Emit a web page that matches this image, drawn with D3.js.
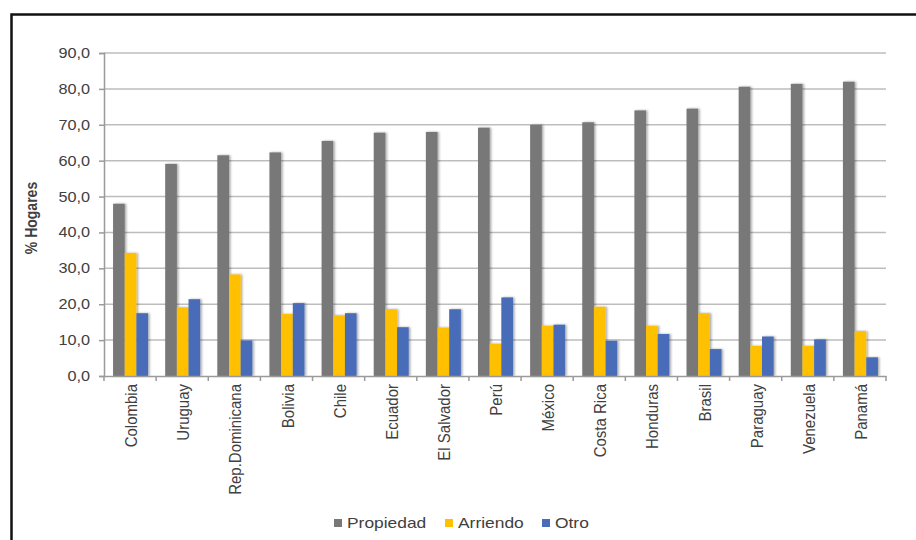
<!DOCTYPE html>
<html>
<head>
<meta charset="utf-8">
<title>Tenencia de vivienda</title>
<script src="https://cdn.jsdelivr.net/npm/d3@7"></script>
<style>
    body { margin: 0; background: #fff; }
    text { font-family: "Liberation Sans", Arial, sans-serif; fill: #404040; }
</style>
</head>
<body>
<svg id="chart"></svg>
<script>
// data
const countries = ["Colombia", "Uruguay", "Rep.Dominicana", "Bolivia", "Chile", "Ecuador", "El Salvador",
    "Perú", "México", "Costa Rica", "Honduras", "Brasil", "Paraguay", "Venezuela", "Panamá"];
const seriesNames = ["Propiedad", "Arriendo", "Otro"];
const propiedad = [48.0, 59.1, 61.5, 62.3, 65.5, 67.8, 68.0, 69.2, 70.0, 70.7, 74.0, 74.5, 80.6, 81.4, 82.0];
const arriendo = [34.3, 19.1, 28.3, 17.3, 16.9, 18.6, 13.5, 9.0, 14.0, 19.3, 14.0, 17.5, 8.4, 8.4, 12.5];
const otro = [17.5, 21.4, 9.9, 20.3, 17.5, 13.6, 18.6, 21.9, 14.3, 9.8, 11.7, 7.5, 11.0, 10.2, 5.2];
const yTicks = [0, 10, 20, 30, 40, 50, 60, 70, 80, 90];
const colors = ["#787878", "#FFC000", "#4A6CB9"];

const width = 916, height = 540;
const stretch = 1.16; // the picture is a bit wider than tall, text looks stretched

const svg = d3.select("#chart").attr("width", width).attr("height", height);

// outer frame
svg.append("rect")
    .attr("x", 11.5).attr("y", 14.5)
    .attr("width", 930).attr("height", 560)
    .attr("fill", "none").attr("stroke", "#111").attr("stroke-width", 2.5);

const defs = svg.append("defs");
const f = defs.append("filter").attr("id", "shadow").attr("x", "-30%").attr("y", "-5%").attr("width", "160%").attr("height", "110%");
f.append("feDropShadow").attr("dx", 1.5).attr("dy", 0).attr("stdDeviation", 1.2)
    .attr("flood-color", "#000").attr("flood-opacity", 0.35);

const x = d3.scaleBand().domain(countries).range([104, 886]);
const xs = d3.scaleBand().domain(seriesNames).range([0, 35]);
const y = d3.scaleLinear().domain([0, 90]).range([376, 53]);

// gridlines
svg.append("g").selectAll("line").data(yTicks.slice(1)).join("line")
    .attr("x1", 104).attr("x2", 886)
    .attr("y1", d => y(d)).attr("y2", d => y(d))
    .attr("stroke", "#bdbdbd").attr("stroke-width", 1.5);

// y axis
const yAxis = svg.append("g").attr("transform", "translate(104,0)")
    .call(d3.axisLeft(y).tickValues(yTicks).tickSize(5).tickPadding(9)
        .tickFormat(d => d3.format(".1f")(d).replace(".", ",")));
yAxis.select(".domain").attr("stroke", "#9a9a9a").attr("stroke-width", 1.5);
yAxis.selectAll(".tick line").attr("stroke", "#9a9a9a").attr("stroke-width", 1.5);
yAxis.selectAll("text")
    .attr("x", 0)
    .attr("transform", `translate(-14,0) scale(${stretch},1)`)
    .attr("font-size", 14).attr("fill", "#404040")
    .style("font-family", "'Liberation Sans', Arial, sans-serif");

// bars
const series = [propiedad, arriendo, otro];
const groups = svg.append("g").selectAll("g").data(countries).join("g")
    .attr("transform", d => `translate(${x(d) + (x.bandwidth() - 35) / 2 + 0.5},0)`);
groups.selectAll("rect").data((c, i) => seriesNames.map((s, k) => ({ s, k, v: series[k][i] }))).join("rect")
    .attr("x", d => xs(d.s))
    .attr("width", xs.bandwidth())
    .attr("y", d => y(d.v))
    .attr("height", d => y(0) - y(d.v))
    .attr("fill", d => colors[d.k])
    .attr("filter", "url(#shadow)");

// x axis
const xAxis = svg.append("g").attr("transform", "translate(0,376)")
    .call(d3.axisBottom(x).tickSize(0).tickPadding(8));
xAxis.select(".domain").attr("stroke", "#9a9a9a").attr("stroke-width", 1.5);
xAxis.selectAll(".tick text")
    .attr("transform", `translate(1,8) scale(${stretch},1) rotate(-90)`)
    .attr("text-anchor", "end")
    .attr("x", 0).attr("y", 0).attr("dy", "0.35em")
    .attr("font-size", 15).attr("fill", "#404040")
    .style("font-family", "'Liberation Sans', Arial, sans-serif");
// boundary ticks
xAxis.append("g").selectAll("line").data(d3.range(countries.length + 1)).join("line")
    .attr("x1", i => 104 + i * x.step()).attr("x2", i => 104 + i * x.step())
    .attr("y1", 0).attr("y2", 5)
    .attr("stroke", "#9a9a9a").attr("stroke-width", 1.5);

// y title
svg.append("text")
    .attr("transform", `translate(37,218) scale(${stretch},1) rotate(-90)`)
    .attr("text-anchor", "middle")
    .attr("font-size", 14).attr("font-weight", "bold").attr("fill", "#222")
    .text("% Hogares");

// legend
const legendX = [334, 445, 542];
const legend = svg.append("g").selectAll("g").data(seriesNames).join("g")
    .attr("transform", (d, i) => `translate(${legendX[i]},523)`);
legend.append("rect").attr("x", 0).attr("y", -4).attr("width", 8).attr("height", 8)
    .attr("fill", (d, i) => colors[i]);
legend.append("text")
    .attr("transform", `translate(13,0) scale(${stretch},1)`)
    .attr("dy", "0.36em")
    .attr("font-size", 15).attr("fill", "#262626")
    .text(d => d);
</script>
</body>
</html>
